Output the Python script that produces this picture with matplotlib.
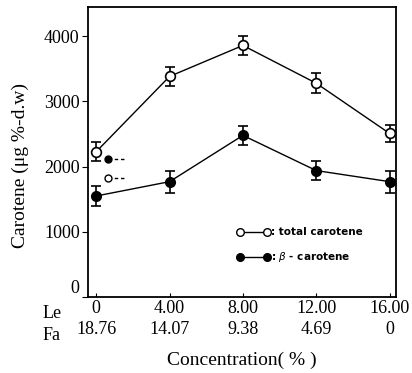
import matplotlib
matplotlib.use("Agg")
import matplotlib.pyplot as plt

# data
le_conc = [0, 4.00, 8.00, 12.00, 16.00]
le_labels = ["0", "4.00", "8.00", "12.00", "16.00"]
fa_labels = ["18.76", "14.07", "9.38", "4.69", "0"]

total = [2230, 3385, 3860, 3280, 2510]
total_err = [150, 150, 150, 150, 130]
beta = [1550, 1770, 2480, 1940, 1770]
beta_err = [150, 170, 150, 150, 170]

# control values marked at the left edge
ctrl_x = [0.65, 1.6]
ctrl_total = [1820, 1820]
ctrl_beta = [2110, 2110]

serif = "Liberation Serif"

fig = plt.figure(figsize=(4.12, 3.73), dpi=100)
ax = fig.add_axes([88/412, 1 - 297/373, (396-88)/412, (297-7)/373])

ax.errorbar(le_conc, total, yerr=total_err, color="black", lw=1.0,
            marker="o", ms=7, mfc="white", mec="black", mew=1.2,
            capsize=3.5, elinewidth=1.2, capthick=1.2, zorder=3)
ax.errorbar(le_conc, beta, yerr=beta_err, color="black", lw=1.0,
            marker="o", ms=7, mfc="black", mec="black",
            capsize=3.5, elinewidth=1.2, capthick=1.2, zorder=3)

ax.plot(ctrl_x, ctrl_beta, color="black", ls=(0, (2.5, 2)), lw=1.0)
ax.plot(ctrl_x[0], ctrl_beta[0], "o", color="black", ms=5)
ax.plot(ctrl_x, ctrl_total, color="black", ls=(0, (2.5, 2)), lw=1.0)
ax.plot(ctrl_x[0], ctrl_total[0], "o", mfc="white", mec="black", ms=5)

# legend drawn by hand like in the figure
lg_x = [7.85, 9.3]
ax.plot(lg_x, [1000, 1000], "-", color="black", lw=1.0)
ax.plot(lg_x, [1000, 1000], "o", mfc="white", mec="black", ms=5.5)
ax.text(9.55, 1000, ": total carotene", fontsize=7.5, fontweight="bold",
        va="center", ha="left")
ax.plot(lg_x, [620, 620], "-o", color="black", lw=1.0, ms=5.5)
ax.text(9.55, 620, ": $\\beta$ - carotene", fontsize=7.5, fontweight="bold",
        va="center", ha="left")

ax.set_xlim(-0.45, 16.35)
ax.set_ylim(0, 4450)
ax.set_yticks([0, 1000, 2000, 3000, 4000])
ax.set_yticklabels(["0", "1000", "2000", "3000", "4000"], fontfamily=serif, fontsize=13)
ax.get_yticklabels()[0].set_va("bottom")  # sits a bit above the corner
ax.set_xticks(le_conc)
ax.set_xticklabels([a + "\n" + b for a, b in zip(le_labels, fa_labels)],
                   fontfamily=serif, fontsize=13, linespacing=1.3)
ax.tick_params(axis="x", direction="in", length=3, pad=2)
ax.tick_params(axis="y", direction="out", length=4, pad=2)
for s in ax.spines.values():
    s.set_linewidth(1.3)

fig.text(52/412, 1 - 314/373, "Le", fontfamily=serif, fontsize=13, ha="center", va="center")
fig.text(52/412, 1 - 336/373, "Fa", fontfamily=serif, fontsize=13, ha="center", va="center")
fig.text(242/412, 1 - 360/373, "Concentration( % )", fontfamily=serif, fontsize=14,
         ha="center", va="center")
fig.text(20/412, 1 - 165/373, "Carotene (μg %-d.w)", fontfamily=serif, fontsize=14,
         ha="center", va="center", rotation=90)

fig.savefig("out.png", dpi=100)
